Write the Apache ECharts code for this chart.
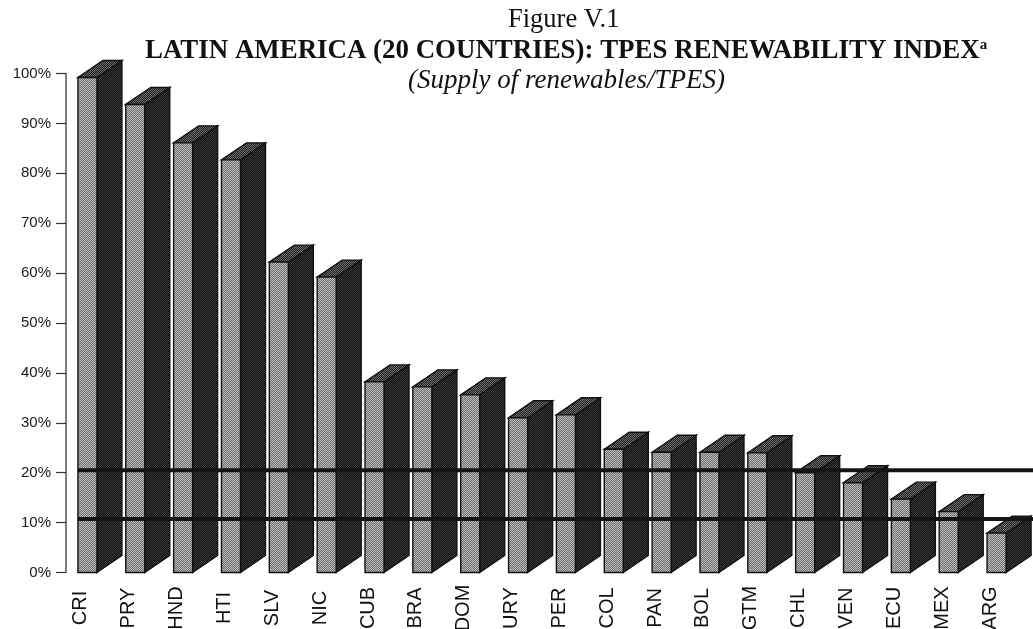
<!DOCTYPE html>
<html>
<head>
<meta charset="utf-8">
<title>TPES renewability index</title>
<script src="https://cdn.jsdelivr.net/npm/echarts@6/dist/echarts.min.js"></script>
<style>
  html, body { margin: 0; padding: 0; background: #fff; }
  #chart { width: 1033px; height: 629px; }
</style>
</head>
<body>
<div id="chart"></div>
<script>
var categories = ['CRI', 'PRY', 'HND', 'HTI', 'SLV', 'NIC', 'CUB', 'BRA', 'DOM', 'URY', 'PER', 'COL', 'PAN', 'BOL', 'GTM', 'CHL', 'VEN', 'ECU', 'MEX', 'ARG']
var renewability = [99.2, 93.8, 86.1, 82.7, 62.2, 59.2, 38.2, 37.2, 35.6, 31, 31.6, 24.7, 24.1, 24.1, 24, 20, 18, 14.7, 12.2, 7.9]
var guideLevels = [20.5, 10.7] // the two heavy rules, slightly above their ticks in the scan

// scanned halftone look
function halftone(a, b) {
  var c = document.createElement('canvas')
  c.width = 2
  c.height = 2
  var ctx = c.getContext('2d')
  ctx.fillStyle = a
  ctx.fillRect(0, 0, 2, 2)
  ctx.fillStyle = b
  ctx.fillRect(0, 0, 1, 1)
  ctx.fillRect(1, 1, 1, 1)
  return { image: c, repeat: 'repeat' }
}
var frontFill = halftone('#6a6a6a', '#c0c0c0')
var sideFill = halftone('#0e0e0e', '#3c3c3c')
var topFill = halftone('#1c1c1c', '#707070')

function renderBar(params, api) {
  var i = api.value(0)
  var top = api.coord([i, api.value(1)])
  var base = api.coord([i, 0])
  var left = top[0] - 3
  var right = top[0] + 16
  var dx = 25
  var dy = 17
  var edge = { stroke: '#111', lineWidth: 1.4 }
  return {
    type: 'group',
    children: [
      {
        type: 'polygon',
        shape: { points: [[right, top[1]], [right + dx, top[1] - dy], [right + dx, base[1] - dy], [right, base[1]]] },
        style: Object.assign({ fill: sideFill }, edge)
      },
      {
        type: 'polygon',
        shape: { points: [[left, top[1]], [left + dx, top[1] - dy], [right + dx, top[1] - dy], [right, top[1]]] },
        style: Object.assign({ fill: topFill }, edge)
      },
      {
        type: 'rect',
        shape: { x: left, y: top[1], width: right - left, height: base[1] - top[1] },
        style: Object.assign({ fill: frontFill }, edge)
      }
    ]
  }
}

function renderGuide(params, api) {
  var p = api.coord([0, api.value(1)])
  return {
    type: 'line',
    shape: { x1: p[0] - 3, y1: p[1], x2: api.getWidth(), y2: p[1] },
    style: { stroke: '#141414', lineWidth: 4 }
  }
}

var chart = echarts.init(document.getElementById('chart'), null, { renderer: 'canvas' })
chart.setOption({
  animation: false,
  backgroundColor: '#fff',
  title: [
    {
      text: 'Figure V.1',
      left: 503,
      top: 2,
      textStyle: { fontFamily: 'Liberation Serif', fontSize: 26.5, fontWeight: 'normal', color: '#111' }
    },
    {
      text: '{t|LATIN AMERICA (20 COUNTRIES): TPES RENEWABILITY INDEX}{s|a}',
      left: 140,
      top: 33,
      textStyle: {
        rich: {
          t: { fontFamily: 'Liberation Serif', fontSize: 26.9, fontWeight: 'bold', color: '#111' },
          s: { fontFamily: 'Liberation Serif', fontSize: 15, fontWeight: 'bold', color: '#111', verticalAlign: 'top' }
        }
      }
    },
    {
      text: '(Supply of renewables/TPES)',
      left: 403,
      top: 62,
      textStyle: { fontFamily: 'Liberation Serif', fontSize: 27, fontWeight: 'normal', fontStyle: 'italic', color: '#111' }
    }
  ],
  grid: { left: 57, right: 19, top: 73.5, bottom: 56.5, outerBoundsMode: 'none' },
  xAxis: {
    type: 'category',
    data: categories,
    axisLine: { show: false },
    axisTick: { show: false },
    axisLabel: {
      interval: 0,
      rotate: 90,
      align: 'center',
      verticalAlign: 'middle',
      margin: 35.5,
      fontFamily: 'Liberation Sans',
      fontSize: 20,
      color: '#111'
    }
  },
  yAxis: {
    type: 'value',
    min: 0,
    max: 100,
    interval: 10,
    offset: -9,
    axisLine: { show: true, lineStyle: { color: '#555', width: 1.5 } },
    axisTick: { show: true, length: 10, lineStyle: { color: '#333', width: 1.2 } },
    splitLine: { show: false },
    axisLabel: {
      margin: 15,
      formatter: '{value}%',
      fontFamily: 'Liberation Sans',
      fontSize: 15,
      color: '#1a1a1a'
    }
  },
  series: [
    {
      type: 'custom',
      renderItem: renderBar,
      encode: { x: 0, y: 1 },
      data: renewability.map(function (v, i) { return [i, v] }),
      z: 2
    },
    {
      type: 'custom',
      renderItem: renderGuide,
      encode: { x: 0, y: 1 },
      data: guideLevels.map(function (v) { return [0, v] }),
      z: 3
    }
  ]
})
</script>
</body>
</html>
